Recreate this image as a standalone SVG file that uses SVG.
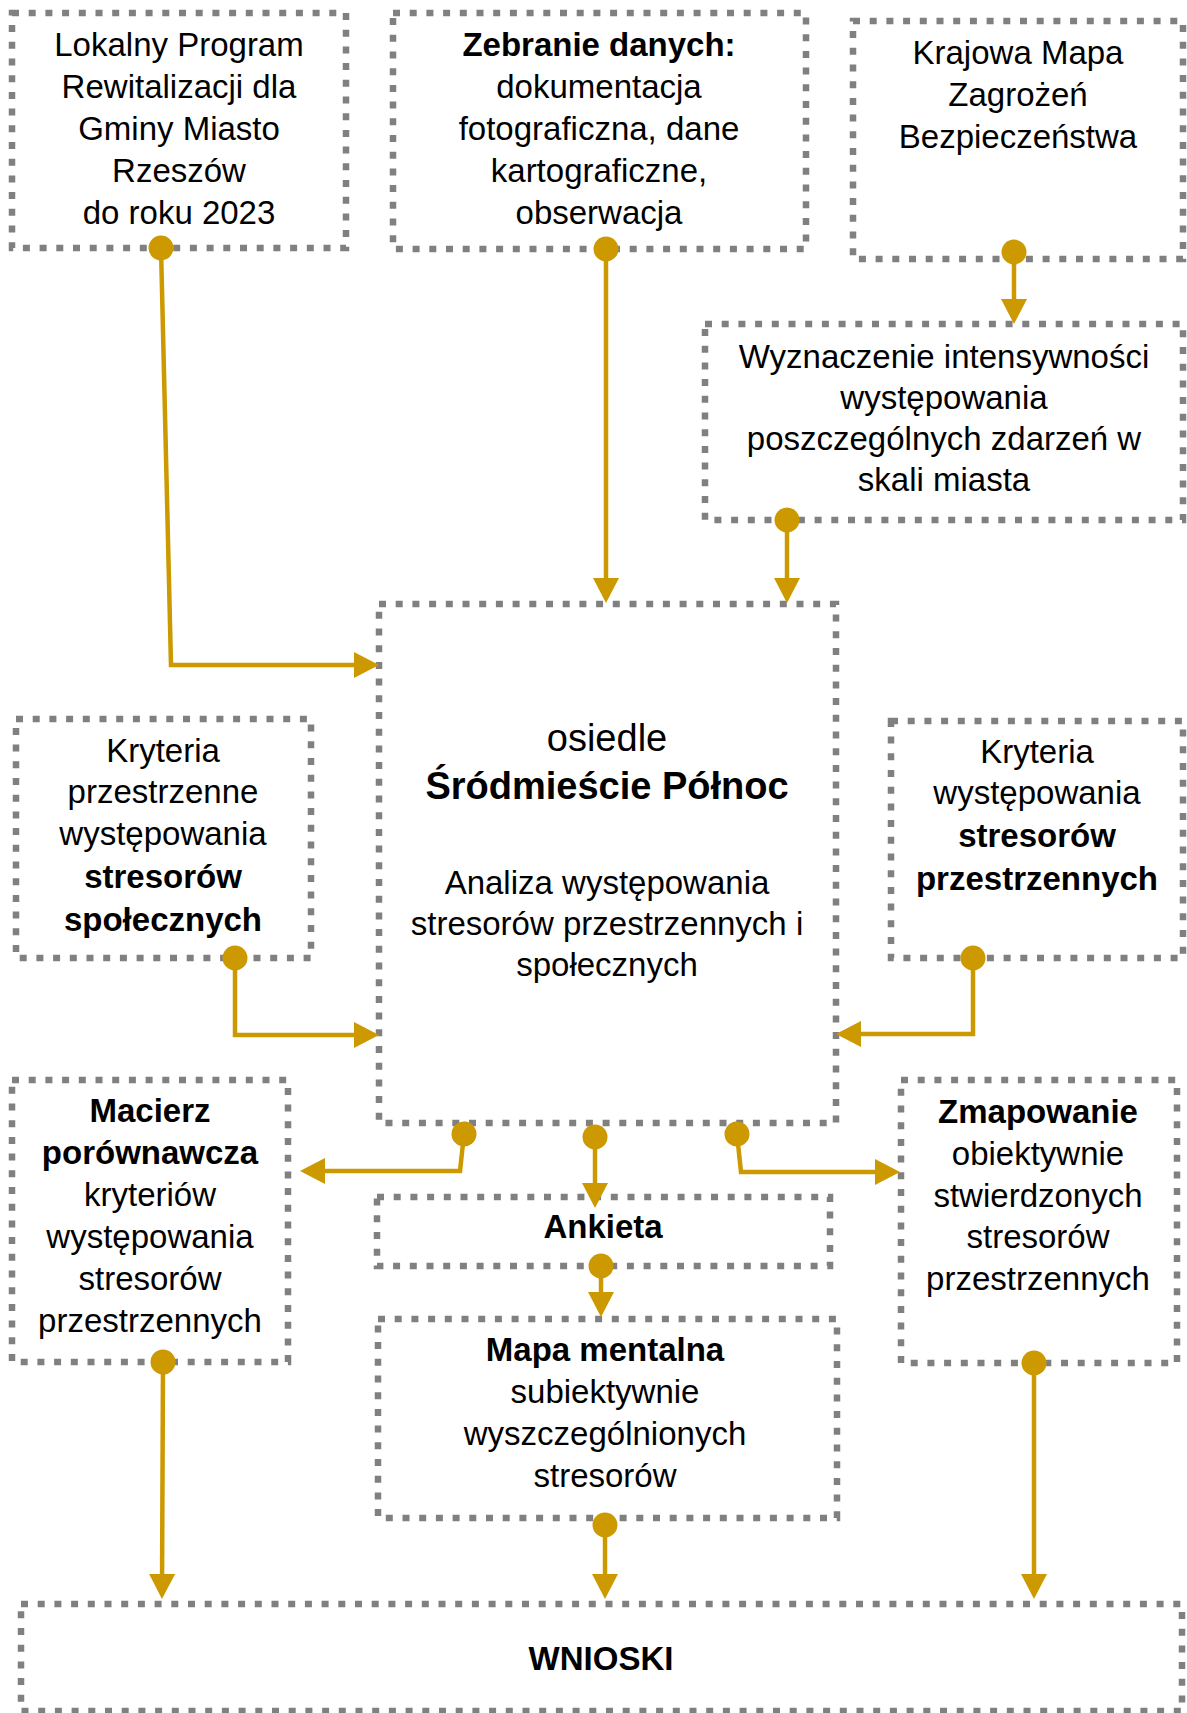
<svg xmlns="http://www.w3.org/2000/svg" width="1187" height="1713" viewBox="0 0 1187 1713">
<style>
.box{fill:#fff;stroke:#808080;stroke-width:6.5;stroke-dasharray:7 9.7}
.t{font-family:"Liberation Sans",Arial,sans-serif;font-size:33px;fill:#000;text-anchor:middle}
.b{font-weight:bold}
.big{font-size:38px}
.conn{fill:none;stroke:#CC9900;stroke-width:4.5;marker-start:url(#dot);marker-end:url(#arr)}
</style>
<defs>
<marker id="dot" markerUnits="userSpaceOnUse" markerWidth="28" markerHeight="28" refX="14" refY="14" orient="auto"><circle cx="14" cy="14" r="12.5" fill="#CC9900"/></marker>
<marker id="arr" markerUnits="userSpaceOnUse" markerWidth="26" markerHeight="26" refX="19" refY="13" orient="auto"><path d="M0,0 L25,13 L0,26 z" fill="#CC9900"/></marker>
</defs>
<rect width="1187" height="1713" fill="#fff"/>
<g id="n-lokalny"><rect class="box" x="12" y="13" width="334" height="235"/>
<text class="t"><tspan x="179" y="56">Lokalny Program</tspan><tspan x="179" y="98">Rewitalizacji dla</tspan><tspan x="179" y="140">Gminy Miasto</tspan><tspan x="179" y="182">Rzeszów</tspan><tspan x="179" y="224">do roku 2023</tspan></text></g>
<g id="n-zebranie"><rect class="box" x="393" y="13" width="413" height="236"/>
<text class="t"><tspan class="b" x="599" y="56">Zebranie danych:</tspan><tspan x="599" y="98">dokumentacja</tspan><tspan x="599" y="140">fotograficzna, dane</tspan><tspan x="599" y="182">kartograficzne,</tspan><tspan x="599" y="224">obserwacja</tspan></text></g>
<g id="n-krajowa"><rect class="box" x="853" y="21" width="330" height="238"/>
<text class="t"><tspan x="1018" y="64">Krajowa Mapa</tspan><tspan x="1018" y="106">Zagrożeń</tspan><tspan x="1018" y="148">Bezpieczeństwa</tspan></text></g>
<g id="n-wyznaczenie"><rect class="box" x="705" y="324" width="478" height="196"/>
<text class="t"><tspan x="944" y="368">Wyznaczenie intensywności</tspan><tspan x="944" y="409">występowania</tspan><tspan x="944" y="450">poszczególnych zdarzeń w</tspan><tspan x="944" y="491">skali miasta</tspan></text></g>
<g id="n-osiedle"><rect class="box" x="379" y="604" width="457" height="519"/>
<text class="t"><tspan class="big" x="607" y="751">osiedle</tspan><tspan class="big b" x="607" y="799">Śródmieście Północ</tspan><tspan x="607" y="894">Analiza występowania</tspan><tspan x="607" y="935">stresorów przestrzennych i</tspan><tspan x="607" y="976">społecznych</tspan></text></g>
<g id="n-kryteria-spol"><rect class="box" x="16" y="719" width="295" height="239"/>
<text class="t"><tspan x="163" y="762">Kryteria</tspan><tspan x="163" y="803">przestrzenne</tspan><tspan x="163" y="845">występowania</tspan><tspan class="b" x="163" y="888">stresorów</tspan><tspan class="b" x="163" y="931">społecznych</tspan></text></g>
<g id="n-kryteria-przestrz"><rect class="box" x="891" y="721" width="292" height="237"/>
<text class="t"><tspan x="1037" y="763">Kryteria</tspan><tspan x="1037" y="804">występowania</tspan><tspan class="b" x="1037" y="847">stresorów</tspan><tspan class="b" x="1037" y="890">przestrzennych</tspan></text></g>
<g id="n-macierz"><rect class="box" x="12" y="1080" width="276" height="282"/>
<text class="t"><tspan class="b" x="150" y="1122">Macierz</tspan><tspan class="b" x="150" y="1164">porównawcza</tspan><tspan x="150" y="1206">kryteriów</tspan><tspan x="150" y="1248">występowania</tspan><tspan x="150" y="1290">stresorów</tspan><tspan x="150" y="1332">przestrzennych</tspan></text></g>
<g id="n-ankieta"><rect class="box" x="377" y="1197" width="453" height="69"/>
<text class="t b" x="603" y="1238">Ankieta</text></g>
<g id="n-mapa"><rect class="box" x="378" y="1319" width="459" height="199"/>
<text class="t"><tspan class="b" x="605" y="1361">Mapa mentalna</tspan><tspan x="605" y="1403">subiektywnie</tspan><tspan x="605" y="1445">wyszczególnionych</tspan><tspan x="605" y="1487">stresorów</tspan></text></g>
<g id="n-zmapowanie"><rect class="box" x="901" y="1080" width="276" height="283"/>
<text class="t"><tspan class="b" x="1038" y="1123">Zmapowanie</tspan><tspan x="1038" y="1165">obiektywnie</tspan><tspan x="1038" y="1207">stwierdzonych</tspan><tspan x="1038" y="1248">stresorów</tspan><tspan x="1038" y="1290">przestrzennych</tspan></text></g>
<g id="n-wnioski"><rect class="box" x="21" y="1604" width="1161" height="107"/>
<text class="t b" x="601" y="1670">WNIOSKI</text></g>
<g id="connectors">
<path class="conn" d="M161,248 L171,665 L373,665"/>
<path class="conn" d="M606,249 L606,597"/>
<path class="conn" d="M1014,252 L1014,318"/>
<path class="conn" d="M787,520 L787,597"/>
<path class="conn" d="M235,958 L235,1035 L373,1035"/>
<path class="conn" d="M973,958 L973,1034 L842,1034"/>
<path class="conn" d="M464,1134 L460,1171 L306,1171"/>
<path class="conn" d="M595,1137 L595,1202"/>
<path class="conn" d="M737,1134 L741,1172 L894,1172"/>
<path class="conn" d="M601,1266 L601,1311"/>
<path class="conn" d="M163,1362 L162,1593"/>
<path class="conn" d="M605,1525 L605,1593"/>
<path class="conn" d="M1034,1363 L1034,1593"/>
</g>
</svg>
